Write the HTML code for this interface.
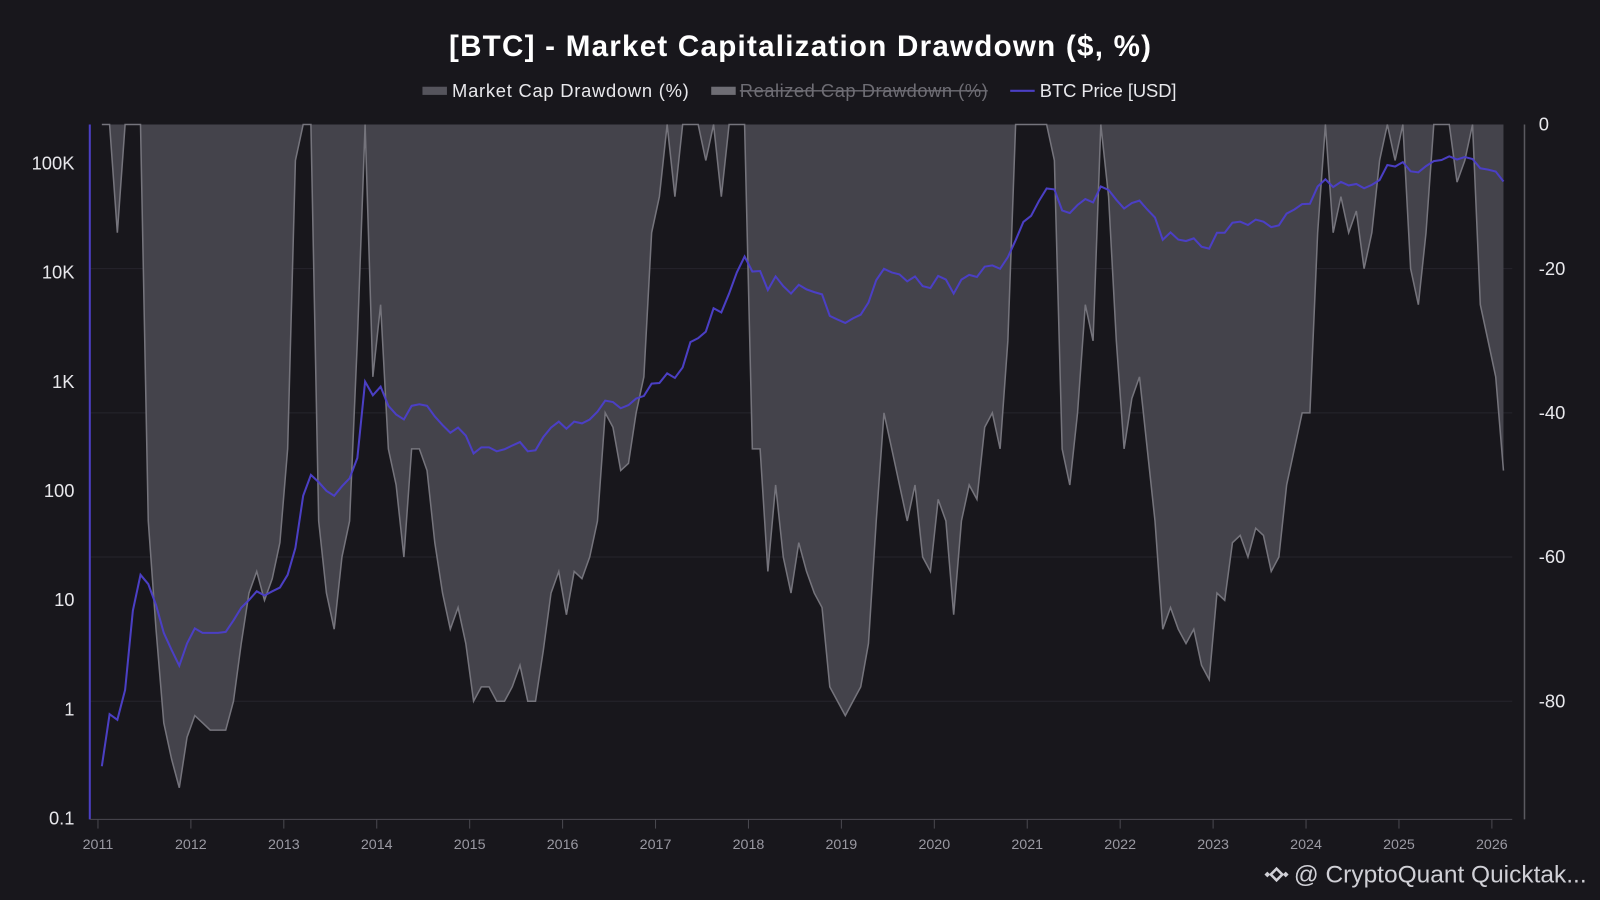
<!DOCTYPE html>
<html><head><meta charset="utf-8"><style>
html,body{margin:0;padding:0;background:#18171c;}
svg{display:block;font-family:"Liberation Sans",sans-serif;}
</style></head><body>
<svg width="1600" height="900" viewBox="0 0 1568 882" xmlns="http://www.w3.org/2000/svg">
<rect x="0" y="0" width="1568" height="882" fill="#18171c"/>
<text x="784" y="55" text-anchor="middle" fill="#ffffff" font-size="29" font-weight="bold" textLength="688">[BTC] - Market Capitalization Drawdown ($, %)</text>
<g font-size="18">
 <g><rect x="414" y="85" width="24" height="8" fill="#55545c"/><text x="443" y="95" fill="#e8e8ec" textLength="232">Market Cap Drawdown (%)</text></g>
 <g><rect x="697" y="85" width="24" height="8" fill="#6e6d74"/><text x="725" y="95" fill="#6e6d74" textLength="243">Realized Cap Drawdown (%)</text><line x1="725" y1="89" x2="968" y2="89" stroke="#6e6d74" stroke-width="1.3"/></g>
 <g><line x1="990" y1="89" x2="1014" y2="89" stroke="#4b3fc4" stroke-width="2"/><text x="1019" y="95" fill="#e8e8ec" textLength="134">BTC Price [USD]</text></g>
</g>
<g id="grid"></g>
<g id="series"></g>
<g id="axes"></g>
<g>
 <g transform="translate(1251,857)" fill="#d0d0d6"><rect x="-4" y="-4" width="8" height="8" transform="rotate(45)" fill="none" stroke="#d0d0d6" stroke-width="2.5"/><rect x="-11" y="-2" width="4" height="4" transform="rotate(45 -9 0)"/><rect x="7" y="-2" width="4" height="4" transform="rotate(45 9 0)"/></g>
 <text x="1268" y="865" fill="#d0d0d6" font-size="24">@ CryptoQuant Quicktak...</text>
</g>
</svg>
<script>
const priceStartYear = 2011;
const btcPrice = [
0.3,0.9,0.8,1.5,8,17,14,9,5,3.5,2.5,4,
5.5,5,5,5,5.1,6.5,8.5,10,12,11,12,13,
17,30,90,140,120,100,90,110,130,200,1000,750,
900,600,500,450,600,620,600,480,400,340,380,320,
220,250,250,230,240,260,280,230,235,310,380,430,
370,430,415,450,530,670,650,570,610,700,740,960,
970,1190,1080,1350,2300,2500,2870,4700,4300,6400,10000,14000,
10200,10300,6900,9200,7500,6400,7700,7000,6600,6300,4000,3700,
3450,3800,4100,5300,8500,10800,10000,9600,8300,9200,7500,7200,
9300,8600,6400,8600,9500,9100,11300,11600,10800,13800,19700,29000,
33000,45000,58800,57700,37000,35000,41500,47000,43800,61300,57000,46300,
38500,43200,45500,37700,31800,19900,23300,20000,19400,20500,17200,16500,
23100,23100,28500,29200,27200,30500,29200,26000,27000,34600,37700,42300,
42600,61200,71300,60600,67500,62700,64600,59000,63300,70200,96400,93400,
102400,84400,82500,94200,104600,107100,115800,108200,114000,109500,90000,87500,
84000,68000];
const mcDrawdown = [
0,0,-15,0,0,0,-55,-70,-83,-88,-92,-85,
-82,-83,-84,-84,-84,-80,-72,-65,-62,-66,-63,-58,
-45,-5,0,0,-55,-65,-70,-60,-55,-30,0,-35,
-25,-45,-50,-60,-45,-45,-48,-58,-65,-70,-67,-72,
-80,-78,-78,-80,-80,-78,-75,-80,-80,-73,-65,-62,
-68,-62,-63,-60,-55,-40,-42,-48,-47,-40,-35,-15,
-10,0,-10,0,0,0,-5,0,-10,0,0,0,
-45,-45,-62,-50,-60,-65,-58,-62,-65,-67,-78,-80,
-82,-80,-78,-72,-55,-40,-45,-50,-55,-50,-60,-62,
-52,-55,-68,-55,-50,-52,-42,-40,-45,-30,0,0,
0,0,0,-5,-45,-50,-40,-25,-30,0,-10,-30,
-45,-38,-35,-45,-55,-70,-67,-70,-72,-70,-75,-77,
-65,-66,-58,-57,-60,-56,-57,-62,-60,-50,-45,-40,
-40,-15,0,-15,-10,-15,-12,-20,-15,-5,0,-5,
0,-20,-25,-15,0,0,0,-8,-5,0,-25,-30,
-35,-48];
const leftTickLabels = ["0.1","1","10","100","1K","10K","100K"];
const leftTickValues = [0.1,1,10,100,1000,10000,100000];
const rightTickValues = [0,-20,-40,-60,-80];
const xTickYears = [2011,2012,2013,2014,2015,2016,2017,2018,2019,2020,2021,2022,2023,2024,2025,2026];

const NS="http://www.w3.org/2000/svg";
const pTop=122,pBottom=803,pLeft=88,pRight=1494;
function xScale(t){return 96+(t-2011)*91.07;}
function yLog(v){return 160+(5-Math.log10(v))*107;}
function yDD(v){return pTop-(v/20)*141.3;}
function mk(tag,attrs,parent){const e=document.createElementNS(NS,tag);for(const k in attrs)e.setAttribute(k,attrs[k]);parent.appendChild(e);return e;}
const gridG=document.getElementById('grid'),seriesG=document.getElementById('series'),axesG=document.getElementById('axes');
function tOf(i){return priceStartYear+(i+0.5)/12;}

rightTickValues.forEach(v=>{if(v===0)return;const l=mk('line',{x1:pLeft,x2:pRight-12,y1:yDD(v),y2:yDD(v),stroke:'#26252c','stroke-width':1},gridG);

});

let d='M'+xScale(tOf(0))+','+pTop;
mcDrawdown.forEach((v,i)=>{d+=' L'+xScale(tOf(i)).toFixed(1)+','+yDD(v).toFixed(1);});
d+=' L'+xScale(tOf(mcDrawdown.length-1)).toFixed(1)+','+pTop+' Z';
const area=mk('path',{d:d,fill:'#44434b'},seriesG);


let dl='';mcDrawdown.forEach((v,i)=>{dl+=(i?' L':'M')+xScale(tOf(i)).toFixed(1)+','+yDD(v).toFixed(1);});
const ddLine=mk('path',{d:dl,fill:'none',stroke:'#75747c','stroke-width':1.5},seriesG);


let pl='';btcPrice.forEach((v,i)=>{pl+=(i?' L':'M')+xScale(tOf(i)).toFixed(1)+','+yLog(v).toFixed(1);});
const pLine=mk('path',{d:pl,fill:'none',stroke:'#4b3fc4','stroke-width':2},seriesG);



const la=mk('line',{x1:pLeft,x2:pLeft,y1:pTop,y2:pBottom,stroke:'#4b3fc4','stroke-width':2},axesG);


const ra=mk('line',{x1:pRight,x2:pRight,y1:pTop,y2:pBottom,stroke:'#5a5960','stroke-width':1.5},axesG);


const ba=mk('line',{x1:pLeft,x2:1482,y1:pBottom,y2:pBottom,stroke:'#4a4950','stroke-width':1},axesG);


leftTickValues.forEach((v,i)=>{const t=mk('text',{x:73,y:yLog(v)+6,'text-anchor':'end',fill:'#e8e8ec','font-size':18},axesG);t.textContent=leftTickLabels[i];

});
rightTickValues.forEach(v=>{const t=mk('text',{x:1508,y:yDD(v)+6,fill:'#e8e8ec','font-size':18},axesG);t.textContent=String(v);

});
xTickYears.forEach(y=>{const x=xScale(y);mk('line',{x1:x,x2:x,y1:pBottom,y2:pBottom+9,stroke:'#4a4950'},axesG);
const t=mk('text',{x:x,y:832,'text-anchor':'middle',fill:'#9a99a2','font-size':14},axesG);t.textContent=String(y);

});
</script>
</body></html>
